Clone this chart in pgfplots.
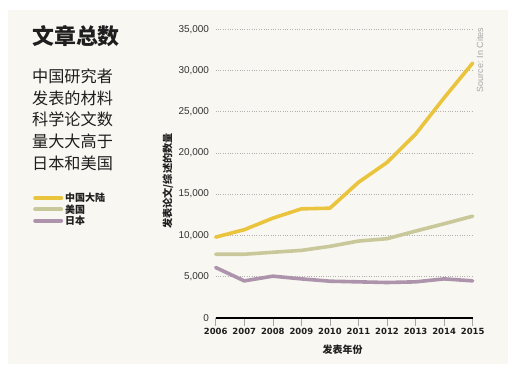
\documentclass[border=0pt]{standalone}
\usepackage{pgfplots}
\pgfplotsset{compat=1.18}
\usepackage{fontspec}
\setmainfont{Liberation Sans}
\newfontfamily\cjk{Noto Sans CJK SC}
\newfontfamily\deja{DejaVu Sans}
\definecolor{gold}{HTML}{EBC43E}
\definecolor{sage}{HTML}{C9C89A}
\definecolor{mauve}{HTML}{AD94AC}
\definecolor{panel}{HTML}{F8F7F1}
\definecolor{txt}{HTML}{1E1E1E}
\begin{document}
\begin{tikzpicture}
\fill[white] (0,0) rectangle (516bp,374bp);
\useasboundingbox (0,0) rectangle (516bp,374bp);
\fill[panel] (8bp,10bp) rectangle (508bp,364bp);
\node[anchor=west, inner sep=0pt, text=txt] at (32bp,338bp) {\cjk\bfseries\fontsize{22}{24}\selectfont 文章总数};
\node[anchor=west, inner sep=0pt, text=txt] at (32bp,297.3bp) {\cjk\fontsize{16.2}{18}\selectfont 中国研究者};
\node[anchor=west, inner sep=0pt, text=txt] at (32bp,275.7bp) {\cjk\fontsize{16.2}{18}\selectfont 发表的材料};
\node[anchor=west, inner sep=0pt, text=txt] at (32bp,255bp) {\cjk\fontsize{16.2}{18}\selectfont 科学论文数};
\node[anchor=west, inner sep=0pt, text=txt] at (32bp,232.3bp) {\cjk\fontsize{16.2}{18}\selectfont 量大大高于};
\node[anchor=west, inner sep=0pt, text=txt] at (32bp,210.7bp) {\cjk\fontsize{16.2}{18}\selectfont 日本和美国};
\node[rotate=90, inner sep=0pt, text=gray!70] at (480bp,314bp) {\fontsize{9}{10}\selectfont Source: In Cites};
\begin{axis}[
  at={(215.7bp,56.3bp)}, anchor=south west,
  scale only axis, width=257bp, height=288.4bp,
  xmin=2006, xmax=2015, ymin=0, ymax=35000,
  clip=false,
  axis x line*=bottom, axis y line*=left,
  x axis line style={black, line width=1.6bp},
  y axis line style={draw=none},
  xtick={2006,...,2015},
  ytick={0,5000,...,35000},
  scaled y ticks=false,
  tick align=outside,
  major tick length=8bp,
  xtick style={draw=gray!70, line width=0.6bp},
  ytick style={draw=none},
  ymajorgrids,
  grid style={dotted, gray!60, line width=0.6bp},
  /pgf/number format/assume math mode=true,
  xticklabel style={/pgf/number format/.cd, 1000 sep={}, /tikz/.cd, font=\deja\bfseries\fontsize{8.5}{10}\selectfont, text=txt, inner sep=0pt, yshift=-2bp},
  yticklabel style={/pgf/number format/.cd, fixed, 1000 sep={,}, /tikz/.cd, font=\fontsize{10}{12}\selectfont, text=black!80, inner sep=0pt, xshift=1.5bp},
  xlabel={\cjk\bfseries 发表年份},
  xlabel style={at={(axis description cs:0.494,-0.112)}, anchor=center, font=\fontsize{10}{12}\selectfont, text=txt},
  ylabel={\cjk\bfseries 发表论文/综述的数量},
  ylabel style={at={(axis description cs:-0.1856,0.474)}, anchor=center, font=\fontsize{10.2}{12}\selectfont, text=txt},
  legend image code/.code={\draw[#1, line width=4bp] (0bp,0bp) -- (26bp,0bp);},
  legend style={at={(axis description cs:-0.7109,0.4393)}, anchor=north west, draw=none, fill=none, inner sep=0pt,
    font=\cjk\bfseries\fontsize{10}{11}\selectfont, text=txt, row sep=-2.8bp,
    /tikz/every even column/.style={column sep=3bp}},
  legend cell align=left,
  every axis plot/.append style={line width=3.6bp, line join=round, line cap=round},
]
\addplot[gold] coordinates {(2006,9780) (2007,10680) (2008,12080) (2009,13210) (2010,13290) (2011,16430) (2012,18840) (2013,22270) (2014,26690) (2015,30900)};
\addlegendentry{中国大陆}
\addplot[sage] coordinates {(2006,7700) (2007,7700) (2008,7940) (2009,8170) (2010,8660) (2011,9300) (2012,9590) (2013,10510) (2014,11400) (2015,12320)};
\addlegendentry{美国}
\addplot[mauve] coordinates {(2006,6090) (2007,4470) (2008,5040) (2009,4710) (2010,4430) (2011,4350) (2012,4270) (2013,4350) (2014,4710) (2015,4470)};
\addlegendentry{日本}
\end{axis}
\end{tikzpicture}
\end{document}
